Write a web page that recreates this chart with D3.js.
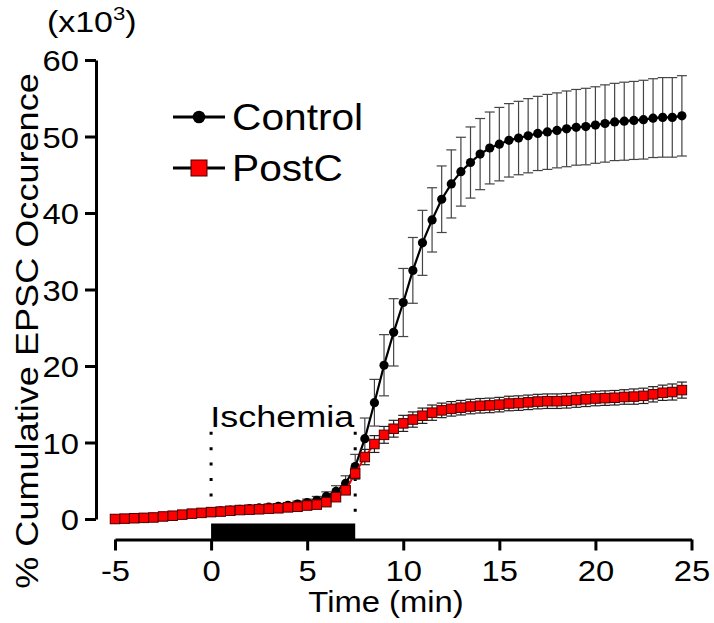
<!DOCTYPE html>
<html>
<head>
<meta charset="utf-8">
<script src="https://cdn.jsdelivr.net/npm/d3@7"></script>
<style>
  html, body { margin: 0; padding: 0; background: #fff; }
  svg { display: block; }
  text { font-family: "Liberation Sans", Arial, sans-serif; fill: #000; }
</style>
</head>
<body>
<svg id="chart" width="714" height="623"></svg>
<script>
// ---- data ----
const times = [-5,-4.5,-4,-3.5,-3,-2.5,-2,-1.5,-1,-0.5,
  0,0.5,1,1.5,2,2.5,3,3.5,4,4.5,5,5.5,6,6.5,7,7.5,
  8,8.5,9,9.5,10,10.5,11,11.5,12,12.5,13,13.5,14,14.5,15,15.5,16,16.5,17,17.5,
  18,18.5,19,19.5,20,20.5,21,21.5,22,22.5,23,23.5,24,24.5];

const controlMean = [0.0,0.05,0.1,0.15,0.22,0.35,0.45,0.58,0.7,0.82,
  0.95,1.05,1.15,1.25,1.35,1.45,1.55,1.65,1.8,1.95,2.15,2.45,2.95,3.6,4.65,6.85,
  10.5,15.2,20.1,24.4,28.3,32.5,36.1,39.1,41.8,43.8,45.4,46.6,47.7,48.5,49.0,49.5,
  49.8,50.1,50.4,50.6,50.8,51.0,51.2,51.3,51.5,51.7,51.9,52.0,52.1,52.2,52.4,52.5,52.5,52.7];
const controlSE = [0.05,0.05,0.08,0.1,0.1,0.12,0.15,0.15,0.18,0.2,
  0.2,0.22,0.25,0.25,0.28,0.3,0.3,0.32,0.35,0.4,0.45,0.5,0.6,0.75,1.0,1.6,
  2.7,3.05,4.0,4.4,4.45,4.3,4.25,4.2,4.35,4.45,4.5,4.65,4.65,4.7,4.8,4.8,
  4.8,4.85,4.85,4.9,4.9,4.95,4.95,5.0,5.0,5.05,5.05,5.1,5.1,5.15,5.15,5.2,5.2,5.25];

const postcMean = [0.0,0.05,0.1,0.15,0.2,0.33,0.43,0.57,0.7,0.8,
  0.9,0.97,1.08,1.17,1.22,1.27,1.35,1.4,1.52,1.6,1.76,1.88,2.2,2.85,3.75,5.95,
  8.1,9.8,11.0,11.8,12.5,13.0,13.5,13.9,14.2,14.4,14.55,14.7,14.8,14.85,14.95,15.1,
  15.15,15.25,15.35,15.4,15.4,15.45,15.55,15.65,15.75,15.8,15.85,15.95,16.0,16.1,16.3,16.5,16.6,16.85];
const postcSE = [0.03,0.03,0.04,0.04,0.05,0.05,0.06,0.06,0.07,0.07,
  0.08,0.08,0.09,0.09,0.1,0.1,0.1,0.11,0.12,0.12,0.13,0.14,0.18,0.25,0.4,0.7,
  1.0,1.1,1.1,1.1,1.05,1.0,1.0,1.0,0.95,0.95,0.95,0.95,0.95,0.95,0.95,0.95,
  0.95,0.95,0.95,0.95,0.95,0.95,0.95,0.95,0.95,0.95,0.95,0.95,1.0,1.0,1.0,1.0,1.05,1.05];

const seriesNames = ["Control", "PostC"];
const xTicks = [-5, 0, 5, 10, 15, 20, 25];
const yTicks = [0, 10, 20, 30, 40, 50, 60];
const ischemia = [0, 7.5];
const xTitle = "Time (min)";
const yTitle = "% Cumulative EPSC Occurence";
const yUnit = "(x10";
const yUnitExp = "3";
const ischemiaLabel = "Ischemia";

// ---- layout ----
const svg = d3.select("#chart");
const x = d3.scaleLinear().domain([-5, 25]).range([115, 691.5]);
const y = d3.scaleLinear().domain([0, 60]).range([519, 60]);
const yAxisX = 96;
const xAxisY = 539.5;
const stretch = 1.13;

function label(g, px, py, txt, size, anchor, sx) {
  return g.append("text")
    .attr("transform", `translate(${px},${py}) scale(${sx || stretch},1)`)
    .attr("text-anchor", anchor || "start")
    .attr("font-size", size)
    .text(txt);
}

// Y axis
const yAxis = d3.axisLeft(y).tickValues(yTicks).tickSize(11).tickSizeOuter(0).tickFormat(d3.format("d"));
const gy = svg.append("g").attr("transform", `translate(${yAxisX},0)`).call(yAxis);
gy.select(".domain").attr("stroke", "#000").attr("stroke-width", 3);
gy.selectAll(".tick line").attr("stroke", "#000").attr("stroke-width", 3);
gy.selectAll(".tick text").remove();
gy.selectAll(".tick").each(function(d) {
  label(d3.select(this), -17, 10.5, String(d), 29, "end");
});

// X axis
const xAxis = d3.axisBottom(x).tickValues(xTicks).tickSize(11).tickSizeOuter(0).tickFormat(d3.format("d"));
const gx = svg.append("g").attr("transform", `translate(0,${xAxisY})`).call(xAxis);
gx.select(".domain").attr("stroke", "#000").attr("stroke-width", 3);
gx.selectAll(".tick line").attr("stroke", "#000").attr("stroke-width", 3);
gx.selectAll(".tick text").remove();
gx.selectAll(".tick").each(function(d) {
  label(d3.select(this), 0, 41, String(d), 29, "middle");
});

// Axis titles
label(svg, 386, 612, xTitle, 29, "middle");
svg.append("text")
  .attr("transform", `translate(38,331) rotate(-90) scale(1.165,1)`)
  .attr("text-anchor", "middle")
  .attr("font-size", 31)
  .text(yTitle);
const unit = label(svg, 47, 32, yUnit, 29, "start", 1.17);
unit.append("tspan").attr("font-size", 19).attr("dy", -12).text(yUnitExp);
unit.append("tspan").attr("dy", 12).text(")");

// Ischemia bar & dotted markers
svg.append("rect")
  .attr("x", x(ischemia[0])).attr("width", x(ischemia[1]) - x(ischemia[0]))
  .attr("y", xAxisY - 16).attr("height", 16)
  .attr("fill", "#000");
ischemia.forEach(t => {
  svg.append("line")
    .attr("x1", x(t)).attr("x2", x(t))
    .attr("y1", y(11.4)).attr("y2", y(0.3))
    .attr("stroke", "#000").attr("stroke-width", 3)
    .attr("stroke-dasharray", "3,12.4");
});
label(svg, x(3.7), 427, ischemiaLabel, 30, "middle", 1.2);

// Series
function drawErr(mean, se, color) {
  const g = svg.append("g").attr("stroke", color).attr("stroke-width", 1.2).attr("fill", "none");
  times.forEach((t, i) => {
    const cx = x(t), hi = y(mean[i] + se[i]), lo = y(mean[i] - se[i]);
    g.append("line").attr("x1", cx).attr("x2", cx).attr("y1", hi).attr("y2", lo);
    g.append("line").attr("x1", cx - 5).attr("x2", cx + 5).attr("y1", hi).attr("y2", hi);
    g.append("line").attr("x1", cx - 5).attr("x2", cx + 5).attr("y1", lo).attr("y2", lo);
  });
}
const line = d3.line();

// Control
drawErr(controlMean, controlSE, "#444");
svg.append("path")
  .attr("d", line(times.map((t, i) => [x(t), y(controlMean[i])])))
  .attr("fill", "none").attr("stroke", "#000").attr("stroke-width", 2.2);
svg.append("g").selectAll("circle").data(times).join("circle")
  .attr("cx", d => x(d)).attr("cy", (d, i) => y(controlMean[i])).attr("r", 4.6)
  .attr("fill", "#000");

// PostC
drawErr(postcMean, postcSE, "#222");
svg.append("path")
  .attr("d", line(times.map((t, i) => [x(t), y(postcMean[i])])))
  .attr("fill", "none").attr("stroke", "#e00000").attr("stroke-width", 1.8);
const sq = 9.5;
svg.append("g").selectAll("rect").data(times).join("rect")
  .attr("x", d => x(d) - sq / 2).attr("y", (d, i) => y(postcMean[i]) - sq / 2)
  .attr("width", sq).attr("height", sq)
  .attr("fill", "#ff0000").attr("stroke", "#4a0000").attr("stroke-width", 1);

// Legend
const leg = svg.append("g");
leg.append("line").attr("x1", 173).attr("x2", 225).attr("y1", 117).attr("y2", 117)
  .attr("stroke", "#000").attr("stroke-width", 3);
leg.append("circle").attr("cx", 199).attr("cy", 117).attr("r", 6.3).attr("fill", "#000");
label(leg, 232, 130, seriesNames[0], 37, "start", 1.1);
leg.append("line").attr("x1", 173).attr("x2", 225).attr("y1", 168).attr("y2", 168)
  .attr("stroke", "#000").attr("stroke-width", 3);
leg.append("rect").attr("x", 191).attr("y", 160).attr("width", 16).attr("height", 16)
  .attr("fill", "#ff0000").attr("stroke", "#4a0000").attr("stroke-width", 1);
label(leg, 232, 181, seriesNames[1], 37, "start", 1.1);
</script>
</body>
</html>
